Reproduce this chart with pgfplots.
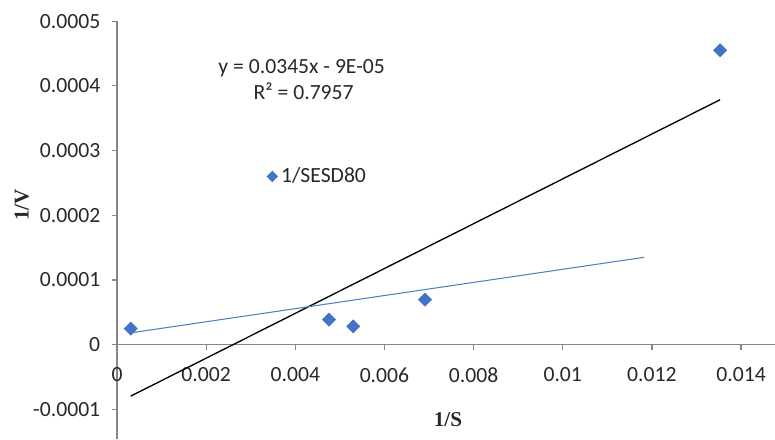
\documentclass[border=0pt]{standalone}
\usepackage{pgfplots}
\pgfplotsset{compat=1.18}
\usepackage{fontspec}
\setmainfont{Carlito}
\newfontfamily\labelfont{Liberation Serif}

\definecolor{mkblue}{RGB}{68,114,196}
\definecolor{lnblue}{RGB}{79,129,189}
\definecolor{axgray}{RGB}{134,134,134}
\definecolor{txt}{RGB}{40,40,40}

\begin{document}
\begin{tikzpicture}
\useasboundingbox (0,0) rectangle (440.2pt,249.4pt);
\begin{axis}[
  at={(66.46pt,0pt)}, anchor=south west,
  scale only axis, width=373.7pt, height=237.4pt,
  xmin=0, xmax=0.01476, ymin=-0.000146, ymax=0.0005,
  axis x line=middle, axis y line=left,
  axis line style={-, draw=axgray, line width=0.7pt},
  tick align=outside, major tick length=3pt,
  tick style={draw=axgray, line width=0.7pt},
  hide obscured x ticks=false, hide obscured y ticks=false,
  scaled ticks=false,
  xtick={0,0.002,0.004,0.006,0.008,0.010,0.012,0.014},
  xticklabels={0,0.002,0.004,0.006,0.008,0.01,0.012,0.014},
  ytick={-0.0001,0,0.0001,0.0002,0.0003,0.0004,0.0005},
  yticklabels={-0.0001,0,0.0001,0.0002,0.0003,0.0004,0.0005},
  ticklabel style={font=\fontsize{12.3}{14}\selectfont, text=txt},
  xticklabel style={yshift=-6.5pt},
  yticklabel style={xshift=-3pt},
  xlabel={1/S}, ylabel={1/V},
  xlabel style={at={(axis description cs:0.503,0.0455)}, anchor=center,
    font=\labelfont\bfseries\fontsize{12}{14}\selectfont, text=txt},
  ylabel style={at={(axis description cs:-0.1445,0.56)}, anchor=center,
    font=\labelfont\bfseries\fontsize{12}{14}\selectfont, text=txt},
  clip=false,
  legend style={at={(axis cs:0.00336,0.00026)}, anchor=west, draw=none, fill=none,
    font=\fontsize{12.3}{14}\selectfont, text=txt, inner sep=0pt,
    /tikz/every even column/.append style={column sep=1.5pt}},
  legend image code/.code={\draw[#1, mark size=2.1pt] plot coordinates {(0.12cm,0cm)};},
]
% fitted line through all points
\addplot[black, line width=0.75pt, forget plot] coordinates {(0.000307,-0.0000796) (0.01353,0.0003785)};
% second line
\addplot[lnblue, line width=0.6pt, forget plot] coordinates {(0.0003,0.0000181) (0.01183,0.000135)};
% measurements
\addplot[only marks, mark=square*, mark size=2.6pt,
  mark options={rotate=45, fill=mkblue, draw=mkblue}] coordinates {
  (0.000307,0.0000247)
  (0.004755,0.0000386)
  (0.0053,0.0000283)
  (0.00691,0.0000696)
  (0.01353,0.000455)
};
\addlegendentry{1/SESD80}
% fit equation and coefficient of determination
\node[font=\fontsize{12.3}{14}\selectfont, text=txt]
  at (axis cs:0.004143,0.0004266) {y = 0.0345x - 9E-05};
\node[font=\fontsize{12.3}{14}\selectfont, text=txt]
  at (axis cs:0.004188,0.000391) {R² = 0.7957};
\end{axis}
\end{tikzpicture}
\end{document}
